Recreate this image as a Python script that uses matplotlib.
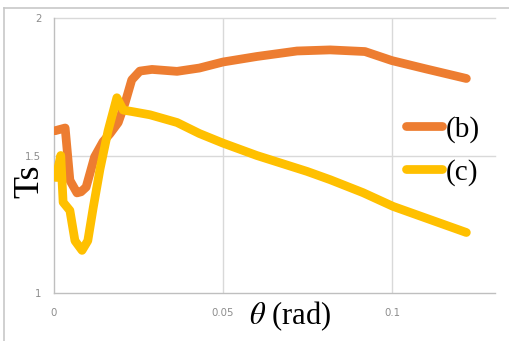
import matplotlib
matplotlib.use("Agg")
import matplotlib.pyplot as plt
from matplotlib.lines import Line2D

plt.rcParams["mathtext.fontset"] = "stix"

# Data
xb = [0.0003, 0.0033, 0.0047, 0.0068, 0.0080, 0.0095, 0.0120, 0.0145, 0.0166, 0.0190,
      0.0210, 0.0230, 0.0254, 0.0290, 0.0364, 0.0430, 0.0500, 0.0600, 0.0719, 0.0817,
      0.0920, 0.1000, 0.1100, 0.1220]
yb = [1.590, 1.600, 1.410, 1.364, 1.368, 1.385, 1.495, 1.550, 1.580, 1.620,
      1.690, 1.775, 1.807, 1.813, 1.806, 1.818, 1.840, 1.860, 1.880, 1.884,
      1.878, 1.845, 1.815, 1.780]

xc = [0.0006, 0.0020, 0.0027, 0.0047, 0.0062, 0.0083, 0.0100, 0.0116, 0.0136, 0.0160,
      0.0186, 0.0205, 0.0230, 0.0284, 0.0364, 0.0430, 0.0500, 0.0600, 0.0749, 0.0817,
      0.0914, 0.1003, 0.1140, 0.1220]
yc = [1.420, 1.500, 1.330, 1.300, 1.190, 1.155, 1.190, 1.310, 1.450, 1.590,
      1.710, 1.665, 1.660, 1.648, 1.620, 1.580, 1.545, 1.500, 1.442, 1.412,
      1.365, 1.315, 1.255, 1.220]

labels = ["(b)", "(c)"]
colors = ["#ED7D31", "#FFC000"]
xticks = [0, 0.05, 0.1]
xticklabels = ["0", "0.05", "0.1"]
yticks = [1, 1.5, 2]
yticklabels = ["1", "1.5", "2"]

W, H = 510, 341
fig = plt.figure(figsize=(W / 100, H / 100), dpi=100)
fig.patch.set_facecolor("white")

# outer border (top and left only visible)
fig.add_artist(Line2D([4 / W, 4 / W], [0, 1 - 8 / H], transform=fig.transFigure,
                      color="#C8C8C8", lw=1.2))
fig.add_artist(Line2D([4 / W, 1], [1 - 8 / H, 1 - 8 / H], transform=fig.transFigure,
                      color="#C8C8C8", lw=1.2))

left, right, top, bottom = 54, 495, 18, 293
ax = fig.add_axes([left / W, 1 - bottom / H, (right - left) / W, (bottom - top) / H])

lw = 6.3
ax.plot(xb, yb, color=colors[0], lw=lw, solid_capstyle="round", solid_joinstyle="round",
        label=labels[0], zorder=3)
ax.plot(xc, yc, color=colors[1], lw=lw, solid_capstyle="round", solid_joinstyle="round",
        label=labels[1], zorder=4)

ax.set_xlim(0, (right - left) / 3380)
ax.set_ylim(1, 2)
ax.set_xticks(xticks)
ax.set_xticklabels(xticklabels)
ax.set_yticks(yticks)
ax.set_yticklabels(yticklabels)
ax.tick_params(axis="both", length=0, labelsize=7.3, labelcolor="#8C8C8C")
ax.tick_params(axis="x", pad=11)
ax.tick_params(axis="y", pad=9)

for s in ["top", "right"]:
    ax.spines[s].set_visible(False)
for s in ["left", "bottom"]:
    ax.spines[s].set_color("#BFBFBF")
    ax.spines[s].set_linewidth(1.0)

for yv in [1.5, 2.0]:
    ax.axhline(yv, color="#D9D9D9", lw=1.0, zorder=1, clip_on=False)
for xv in [0.05, 0.1]:
    ax.axvline(xv, color="#D9D9D9", lw=1.0, zorder=1)

serif = ["Liberation Serif", "DejaVu Serif"]
fig.text(30 / W, 1 - 181 / H, "Ts", rotation=90, ha="center", va="center",
         fontsize=26, family=serif)
fig.text(290 / W, 1 - 316 / H, r"$\theta$ (rad)", ha="center", va="center",
         fontsize=22, family=serif)

leg = ax.legend(loc="center left", bbox_to_anchor=(406 / W, 1 - 151 / H),
                bbox_transform=fig.transFigure, frameon=False,
                prop={"family": serif, "size": 21}, handlelength=1.25,
                handletextpad=0.1, labelspacing=0.55, borderpad=0, borderaxespad=0)

fig.savefig("out.png", dpi=100, facecolor="white")
